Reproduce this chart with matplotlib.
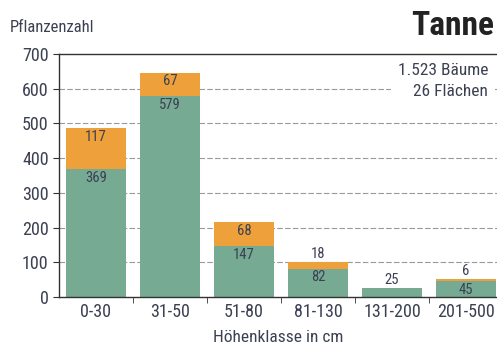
import matplotlib.pyplot as plt
import numpy as np

plt.rcParams['font.family'] = ['Roboto Condensed', 'DejaVu Sans']

klassen = ['0-30', '31-50', '51-80', '81-130', '131-200', '201-500']
gruen = [369, 579, 147, 82, 25, 45]
orange = [117, 67, 68, 18, 0, 6]

c_gruen = '#76aa93'
c_orange = '#eea03a'
c_text = '#3b4052'

fig = plt.figure(figsize=(4.97, 3.44), dpi=100)
ax = fig.add_axes([0.1187, 0.1366, 0.8813, 0.7064])

x = np.arange(len(klassen))
ax.bar(x, gruen, width=0.8, color=c_gruen, zorder=2)
ax.bar(x, orange, width=0.8, bottom=gruen, color=c_orange, zorder=2)

# labels inside the segment top, or above the bar when the segment is thin
for i in range(len(klassen)):
    total = gruen[i] + orange[i]
    if gruen[i] >= 40:
        ax.text(x[i], gruen[i] - 5, str(gruen[i]), ha='center', va='top',
                fontsize=10.5, color=c_text, zorder=3)
    else:
        ax.text(x[i], total + 3, str(gruen[i]), ha='center', va='bottom',
                fontsize=10.5, color=c_text, zorder=3)
    if orange[i] >= 40:
        ax.text(x[i], total - 5, str(orange[i]), ha='center', va='top',
                fontsize=10.5, color=c_text, zorder=3)
    elif orange[i] > 0:
        ax.text(x[i], total + 3, str(orange[i]), ha='center', va='bottom',
                fontsize=10.5, color=c_text, zorder=3)

ax.set_xlim(-0.5, 5.42)
ax.set_ylim(0, 700)
ax.set_yticks(range(0, 701, 100))
ax.set_xticks(x)
ax.set_xticklabels(klassen)
ax.set_xticks(x[:-1] + 0.5, minor=True)
ax.tick_params(axis='x', which='major', length=0, labelsize=13, colors=c_text, pad=4)
ax.tick_params(axis='x', which='minor', length=4, direction='out', color='#333333')
ax.tick_params(axis='y', length=4, direction='out', labelsize=13, labelcolor=c_text, color='#333333')

for y in range(100, 700, 100):
    ax.axhline(y, color='#999999', lw=0.8, ls=(0, (5, 2)), zorder=1)

ax.spines['right'].set_visible(False)
for s in ['left', 'bottom', 'top']:
    ax.spines[s].set_color('#333333')
    ax.spines[s].set_linewidth(1.0)

ax.set_xlabel('Höhenklasse in cm', fontsize=12.5, color=c_text, labelpad=7)

fig.text(0.02, 0.92, 'Pflanzenzahl', fontsize=12, color=c_text, va='center')
fig.text(0.995, 0.925, 'Tanne', fontsize=24, fontweight='bold', color='#222222',
         ha='right', va='center')

# summary box covers the grid lines behind it
fig.text(0.982, 0.764, '1.523 Bäume\n26 Flächen', ha='right', va='center',
         multialignment='right', linespacing=1.5, fontsize=12.5, color=c_text,
         bbox=dict(boxstyle='square,pad=0.35', fc='white', ec='none'), zorder=5)

fig.savefig('out.png', dpi=100)
